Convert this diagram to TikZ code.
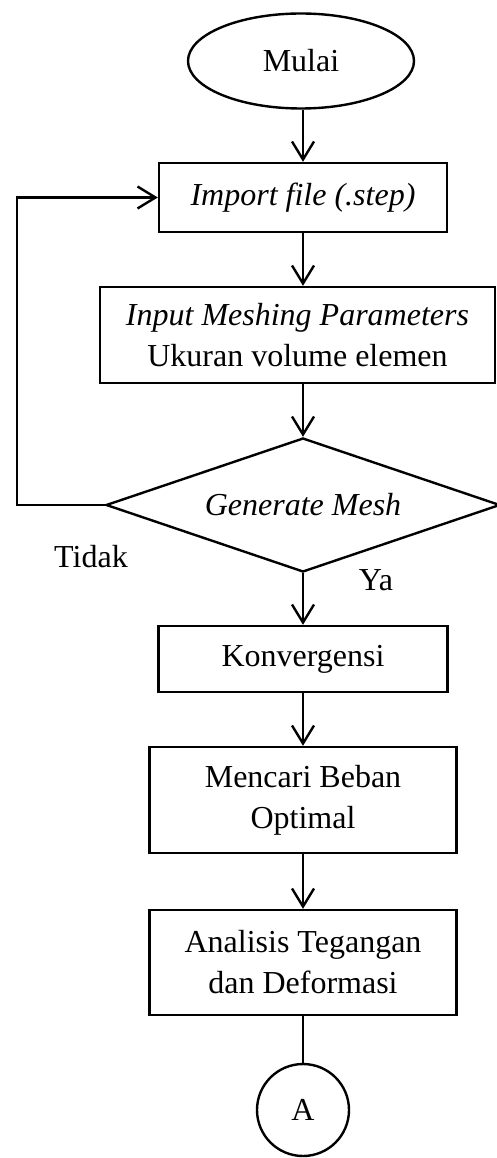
\documentclass[tikz,border=0pt]{standalone}
\usepackage{fontspec}
\setmainfont{Liberation Serif}
\usetikzlibrary{shapes.geometric,arrows.meta}
\begin{document}
\begin{tikzpicture}[x=1pt,y=-1pt,
  font=\fontsize{32}{41}\selectfont,
  every node/.style={inner sep=0pt},
  stepbox/.style={draw,line width=2.4pt,align=center},
  arr/.style={line width=2.4pt,-{Straight Barb[length=18pt,width=22pt,line width=2.4pt]}},
  ln/.style={line width=2.4pt}]
\useasboundingbox (0,0) rectangle (497,1158);
\node[draw,ellipse,line width=2.4pt,minimum width=226pt,minimum height=95pt] (mulai) at (301,61) {Mulai};
\node[stepbox,minimum width=288pt,minimum height=69pt] (import) at (303,197.5) {\itshape Import file (.step)};
\node[stepbox,minimum width=395pt,minimum height=96pt] (input) at (297.5,335) {\itshape Input Meshing Parameters\\Ukuran volume elemen};
\node[draw,diamond,aspect=2.94,line width=2.4pt,minimum width=394pt,minimum height=134pt] (gen) at (303,505) {\itshape Generate Mesh};
\node[stepbox,minimum width=289pt,minimum height=66pt] (konv) at (303,659) {Konvergensi};
\node[stepbox,minimum width=307pt,minimum height=106pt] (beban) at (303,800) {Mencari Beban\\Optimal};
\node[stepbox,minimum width=307pt,minimum height=105pt] (anal) at (303,962.5) {Analisis Tegangan\\dan Deformasi};
\node[draw,circle,line width=2.4pt,minimum size=92pt] (A) at (303,1110) {A};
\node (tidak) at (91,557) {Tidak};
\node (ya) at (376,580) {Ya};
\draw[arr] (mulai.south -| import.north) -- (import.north);
\draw[arr] (import.south) -- (import.south |- input.north);
\draw[arr] (import.south |- input.south) -- (gen.north);
\draw[arr] (gen.south) -- (konv.north);
\draw[arr] (konv.south) -- (beban.north);
\draw[arr] (beban.south) -- (anal.north);
\draw[ln] (anal.south) -- (A.north);
\draw[arr] (gen.west) -- ++(-88,0) |- (import.west);
\end{tikzpicture}
\end{document}
